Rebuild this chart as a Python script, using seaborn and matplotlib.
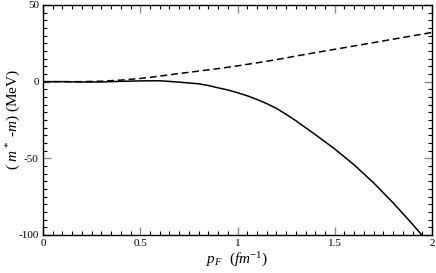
import numpy as np
import pandas as pd
import matplotlib
matplotlib.use("Agg")
import matplotlib.pyplot as plt
from matplotlib.ticker import MultipleLocator, FuncFormatter
import seaborn as sns

# --- data ---
P_F = [0.0, 0.1, 0.2, 0.3, 0.4, 0.5, 0.6, 0.7, 0.8, 0.85, 0.9, 0.95, 1.0,
       1.05, 1.1, 1.15, 1.2, 1.25, 1.3, 1.4, 1.5, 1.6, 1.7, 1.8, 1.9, 1.95, 2.0]
SOLID = [0.0, 0.0, -0.2, -0.2, 0.2, 0.5, 0.6, -0.3, -1.4, -2.5, -4.0, -5.4, -7.2,
         -9.2, -11.6, -14.3, -17.4, -21.3, -25.5, -34.5, -43.9, -54.3, -66.0, -79.0, -93.0, -100.4, -108.0]
DASHED = [0.0, 0.0, 0.0, 0.3, 1.0, 2.1, 3.6, 5.3, 6.9, 7.7, 8.5, 9.4, 10.3,
          11.3, 12.3, 13.3, 14.4, 15.5, 16.7, 18.9, 21.1, 23.3, 25.5, 27.7, 29.9, 31.0, 32.1]

df = pd.DataFrame({
    "p": P_F * 2,
    "dm": SOLID + DASHED,
    "curve": ["solid"] * len(P_F) + ["dashed"] * len(P_F),
})

sns.set_style("ticks")
plt.rcParams["font.family"] = ["Liberation Serif", "DejaVu Serif"]
plt.rcParams["mathtext.fontset"] = "custom"
plt.rcParams["mathtext.rm"] = "Liberation Serif"
plt.rcParams["mathtext.it"] = "Liberation Serif:italic"
plt.rcParams["text.color"] = "black"
plt.rcParams["axes.labelcolor"] = "black"

fig = plt.figure(figsize=(4.36, 2.73), dpi=100)
ax = fig.add_axes([43 / 436, 38 / 273, 389 / 436, 230 / 273])

sns.lineplot(data=df, x="p", y="dm", style="curve",
             dashes={"solid": "", "dashed": (4.5, 2.5)},
             color="black", linewidth=1.1, ax=ax, legend=False)

ax.set_xlim(0, 2)
ax.set_ylim(-100, 50)
ax.xaxis.set_major_locator(MultipleLocator(0.5))
ax.xaxis.set_minor_locator(MultipleLocator(0.05))
ax.yaxis.set_major_locator(MultipleLocator(50))
ax.yaxis.set_minor_locator(MultipleLocator(5))
ax.xaxis.set_major_formatter(FuncFormatter(lambda v, _: f"{v:g}"))
ax.yaxis.set_major_formatter(FuncFormatter(lambda v, _: f"{v:g}"))

ax.tick_params(which="both", direction="in", top=True, right=True,
               labelsize=8, pad=3, labelcolor="black")
ax.tick_params(which="major", length=6, width=1.0, color="0.55")
ax.tick_params(which="minor", length=3, width=0.8, color="black")
for s in ax.spines.values():
    s.set_linewidth(1.0)
    s.set_color("black")

ax.set_xlabel(r"$p_F$  $(fm^{-1})$", fontsize=11)
ax.set_ylabel(r"( $m^*$ -$m$) (MeV)", fontsize=11)
ax.xaxis.set_label_coords(0.5, -0.068)
ax.yaxis.set_label_coords(-0.052, 0.5)

fig.savefig("out.png", dpi=100)
